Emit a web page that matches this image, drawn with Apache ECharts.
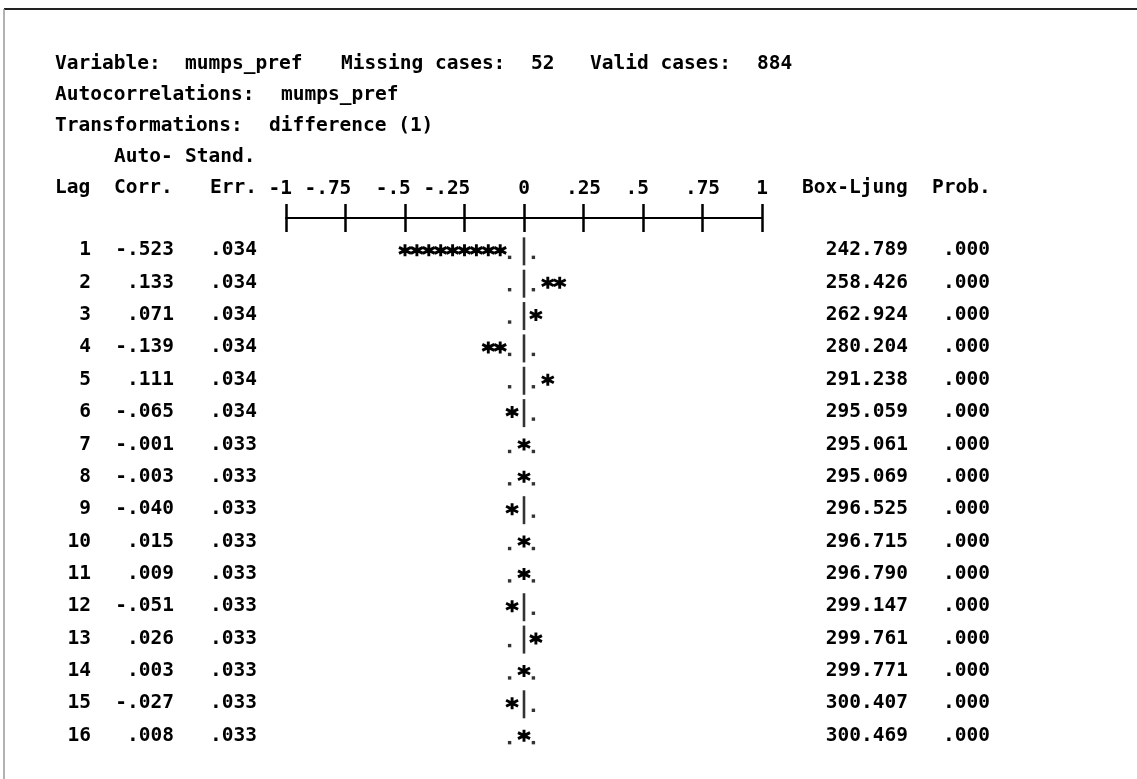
<!DOCTYPE html>
<html><head><meta charset="utf-8">
<script src="https://cdn.jsdelivr.net/npm/echarts@6/dist/echarts.min.js"></script>
<style>html,body{margin:0;padding:0;background:#fff}#chart{width:1137px;height:779px}</style>
</head><body><div id="chart"></div>
<script>
// ---- data ----
const lags = [1,2,3,4,5,6,7,8,9,10,11,12,13,14,15,16];
const corr = [-0.523,0.133,0.071,-0.139,0.111,-0.065,-0.001,-0.003,-0.040,0.015,0.009,-0.051,0.026,0.003,-0.027,0.008];
const stdErr = [0.034,0.034,0.034,0.034,0.034,0.034,0.033,0.033,0.033,0.033,0.033,0.033,0.033,0.033,0.033,0.033];
const boxLjung = [242.789,258.426,262.924,280.204,291.238,295.059,295.061,295.069,296.525,296.715,296.790,299.147,299.761,299.771,300.407,300.469];
const prob = [0,0,0,0,0,0,0,0,0,0,0,0,0,0,0,0];
const tickValues = [-1,-0.75,-0.5,-0.25,0,0.25,0.5,0.75,1];
const tickLabels = ['-1','-.75','-.5','-.25','0','.25','.5','.75','1'];
const variableName = 'mumps_pref';
const missingCases = 52;
const validCases = 884;
const transformation = 'difference (1)';
const cellStep = 0.05; // one character column of the text plot

// ---- style ----
const FONT_FAMILY = '"DejaVu Sans Mono", "Liberation Mono", monospace';
const FS = 19.5;
const FW = 'bold';
const INK = '#000';
const CW = 11.75;
const fontStr = FW + ' ' + FS + 'px ' + FONT_FAMILY;

function fmt3(v) {
  const s = Math.abs(v).toFixed(3).replace(/^0/, '');
  return (v < 0 ? '-' : '') + s;
}

// ---- build plot marks from data ----
const starPts = [], barPts = [], dotPts = [];
lags.forEach((lag, i) => {
  const r = corr[i];
  const sgn = r < 0 ? -1 : 1;
  const n = Math.round(Math.abs(r) / cellStep);
  const lim = Math.max(1, Math.round(2 * stdErr[i] / cellStep));
  const starCells = [];
  if (n === 0) starCells.push(0);
  else if (n <= lim) for (let k = 1; k <= n; k++) starCells.push(sgn * k);
  else for (let k = lim + 1; k <= n; k++) starCells.push(sgn * k);
  starCells.forEach(c => starPts.push([c * cellStep, lag]));
  if (starCells.indexOf(0) < 0) barPts.push([0, lag]);
  [-lim, lim].forEach(c => { if (starCells.indexOf(c) < 0) dotPts.push([c * cellStep, lag]); });
});

// x-axis label rich styles: align the significant character over the tick
const rich = {};
tickLabels.forEach((t, i) => {
  const target = t[0] === '-' ? t.length - 1 : (t[0] === '.' ? 1 : 0);
  const shift = -(target + 0.5 - t.length / 2) * CW;
  rich['s' + i] = {
    fontFamily: FONT_FAMILY, fontSize: FS, fontWeight: FW, color: INK,
    padding: shift < 0 ? [0, -2 * shift, 0, 0] : [0, 0, 0, 2 * shift]
  };
});

function colAxis(position, offset, textFn, align) {
  return {
    type: 'value', inverse: true, min: 0, max: 17, interval: 1,
    position: position, offset: offset,
    axisLine: {show: false}, axisTick: {show: false}, splitLine: {show: false},
    axisLabel: {
      show: true, margin: 0, align: align,
      fontFamily: FONT_FAMILY, fontSize: FS, fontWeight: FW, color: INK,
      formatter: v => {
        const idx = lags.indexOf(v);
        return idx < 0 ? '' : textFn(idx);
      }
    }
  };
}

const headerText = [
  {x: 55, y: 64, t: 'Variable:'},
  {x: 185, y: 64, t: variableName},
  {x: 341, y: 64, t: 'Missing cases:'},
  {x: 531, y: 64, t: String(missingCases)},
  {x: 590, y: 64, t: 'Valid cases:'},
  {x: 757, y: 64, t: String(validCases)},
  {x: 55, y: 95, t: 'Autocorrelations:'},
  {x: 281, y: 95, t: variableName},
  {x: 55, y: 126, t: 'Transformations:'},
  {x: 269, y: 126, t: transformation},
  {x: 114, y: 157, t: 'Auto-'},
  {x: 185, y: 157, t: 'Stand.'},
  {x: 55, y: 188, t: 'Lag'},
  {x: 114, y: 188, t: 'Corr.'},
  {x: 210, y: 188, t: 'Err.'},
  {x: 802, y: 188, t: 'Box-Ljung'},
  {x: 932, y: 188, t: 'Prob.'}
];

const graphic = headerText.map(h => ({
  type: 'text', silent: true,
  style: {text: h.t, x: h.x, y: h.y, font: fontStr, fill: INK, textAlign: 'left', textVerticalAlign: 'middle', verticalAlign: 'middle'}
}));
graphic.push({type: 'line', silent: true, shape: {x1: 4, y1: 9, x2: 1137, y2: 9}, style: {stroke: '#222', lineWidth: 2}});
graphic.push({type: 'line', silent: true, shape: {x1: 4, y1: 9, x2: 4, y2: 779}, style: {stroke: '#999', lineWidth: 1.5}});

const chart = echarts.init(document.getElementById('chart'), null, {renderer: 'canvas'});
const option = {
  backgroundColor: '#fff',
  animation: false,
  grid: {left: 286, top: 218, width: 476, height: 550, containLabel: false},
  xAxis: [
    {
      type: 'value', min: -1, max: 1, interval: 0.25, position: 'top',
      axisLine: {show: true, onZero: false, lineStyle: {color: INK, width: 2}},
      axisTick: {show: true, length: 14, lineStyle: {color: INK, width: 2.5}},
      splitLine: {show: false},
      axisLabel: {
        margin: 19, rich: rich,
        formatter: v => {
          const i = tickValues.findIndex(t => Math.abs(t - v) < 1e-9);
          return i < 0 ? '' : '{s' + i + '|' + tickLabels[i] + '}';
        }
      }
    },
    {
      type: 'value', min: -1, max: 1, interval: 0.25, position: 'top',
      axisLine: {show: false, onZero: false},
      axisTick: {show: true, inside: true, length: 14, lineStyle: {color: INK, width: 2.5}},
      splitLine: {show: false}, axisLabel: {show: false}
    }
  ],
  yAxis: [
    {type: 'value', inverse: true, min: 0, max: 17, interval: 1, show: false},
    colAxis('left', 286 - 91, i => String(lags[i]), 'right'),
    colAxis('left', 286 - 174, i => fmt3(corr[i]), 'right'),
    colAxis('left', 286 - 257, i => fmt3(stdErr[i]), 'right'),
    colAxis('right', 908 - 762, i => boxLjung[i].toFixed(3), 'right'),
    colAxis('right', 990 - 762, i => fmt3(prob[i]), 'right')
  ],
  series: [
    {
      type: 'scatter', name: 'bar', data: barPts, silent: true,
      symbol: 'rect', symbolSize: [2.6, 28], symbolOffset: [0, 1],
      itemStyle: {color: INK}
    },
    {
      type: 'scatter', name: 'limit', data: dotPts, silent: true,
      symbol: 'rect', symbolSize: [3.4, 3.4], symbolOffset: [-2.5, 7],
      itemStyle: {color: INK}
    },
    {
      type: 'scatter', name: 'acf', data: starPts, silent: true,
      symbol: 'path://M6,0L6,12M0.8,3L11.2,9M0.8,9L11.2,3', symbolSize: [12, 12],
      itemStyle: {color: INK, borderColor: INK, borderWidth: 2.9, opacity: 1}
    }
  ],
  graphic: graphic
};
chart.setOption(option);
</script>
</body></html>
